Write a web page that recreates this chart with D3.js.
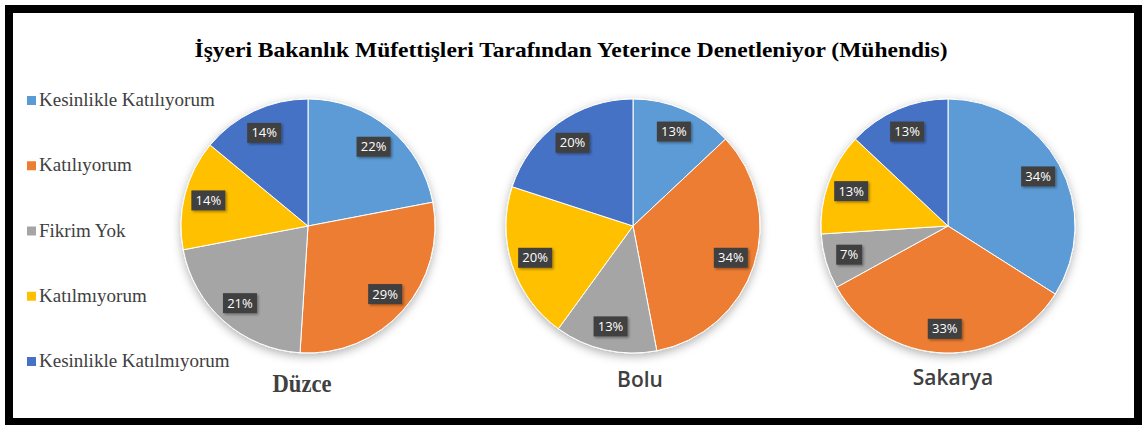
<!DOCTYPE html>
<html>
<head>
<meta charset="utf-8">
<script src="https://cdn.jsdelivr.net/npm/d3@7"></script>
<style>
  html, body { margin: 0; padding: 0; background: #fff; }
  svg { display: block; }
</style>
</head>
<body>
<svg id="chart" width="1144" height="425"></svg>
<script>
const title = "İşyeri Bakanlık Müfettişleri Tarafından Yeterince Denetleniyor (Mühendis)";
const categories = ["Kesinlikle Katılıyorum", "Katılıyorum", "Fikrim Yok", "Katılmıyorum", "Kesinlikle Katılmıyorum"];
const colors = ["#5B9BD5", "#ED7D31", "#A5A5A5", "#FFC000", "#4472C4"];
const cities = ["Düzce", "Bolu", "Sakarya"];
const duzceValues = [22, 29, 21, 14, 14];
const boluValues = [13, 34, 13, 20, 20];
const sakaryaValues = [34, 33, 7, 13, 13];
const seriesValues = [duzceValues, boluValues, sakaryaValues];

const svg = d3.select("#chart");
const W = 1144, H = 425;

const defs = svg.append("defs");
const f = defs.append("filter").attr("id", "pieShadow")
  .attr("x", "-20%").attr("y", "-20%").attr("width", "140%").attr("height", "140%");
f.append("feDropShadow").attr("dx", 0).attr("dy", 3).attr("stdDeviation", 5)
  .attr("flood-color", "#000").attr("flood-opacity", 0.3);
const f2 = defs.append("filter").attr("id", "boxShadow")
  .attr("x", "-30%").attr("y", "-30%").attr("width", "160%").attr("height", "160%");
f2.append("feDropShadow").attr("dx", 1.5).attr("dy", 1.5).attr("stdDeviation", 1)
  .attr("flood-color", "#000").attr("flood-opacity", 0.35);

svg.append("rect").attr("x", 0).attr("y", 0).attr("width", W).attr("height", H).attr("fill", "#fff");

// Frame
svg.append("rect")
  .attr("x", 9).attr("y", 9).attr("width", 1129).attr("height", 413)
  .attr("fill", "none").attr("stroke", "#000").attr("stroke-width", 8);

// Title
svg.append("text")
  .attr("x", 571).attr("y", 57)
  .attr("text-anchor", "middle")
  .attr("font-family", "'Liberation Serif', 'Times New Roman', serif")
  .attr("font-weight", "bold")
  .attr("font-size", 22)
  .attr("textLength", 753)
  .attr("lengthAdjust", "spacingAndGlyphs")
  .attr("fill", "#000")
  .text(title);

// Legend
const legendY = d3.scalePoint().domain(categories).range([106, 367]);
const legend = svg.append("g");
categories.forEach((c, i) => {
  const y = legendY(c);
  legend.append("rect").attr("x", 27).attr("y", y - 10).attr("width", 9).attr("height", 9)
    .attr("fill", colors[i]);
  legend.append("text").attr("x", 39).attr("y", y)
    .attr("font-family", "'Liberation Serif', 'Times New Roman', serif")
    .attr("font-size", 19)
    .attr("fill", "#404040")
    .text(c);
});

// Pies
const cxs = { "Düzce": 308, "Bolu": 633, "Sakarya": 948 };
const R = 127;
const pie = d3.pie().sort(null).value(d => d);
const arc = d3.arc().innerRadius(0).outerRadius(R);
const labelArc = d3.arc().innerRadius(R * 0.81).outerRadius(R * 0.81);

cities.forEach((city, ci) => {
  const cx = cxs[city], cy = 226;
  const g = svg.append("g").attr("transform", `translate(${cx},${cy})`);
  const arcs = pie(seriesValues[ci]);
  const slices = g.append("g").attr("filter", "url(#pieShadow)");
  slices.selectAll("path").data(arcs).enter().append("path")
    .attr("d", arc)
    .attr("fill", (d, i) => colors[i])
    .attr("stroke", "#fff")
    .attr("stroke-width", 1);

  const lbl = g.selectAll("g.lbl").data(arcs).enter().append("g")
    .attr("class", "lbl")
    .attr("transform", d => `translate(${labelArc.centroid(d)})`);
  lbl.append("rect")
    .attr("x", d => (String(d.data).length > 1 ? -17 : -13))
    .attr("y", -10)
    .attr("width", d => (String(d.data).length > 1 ? 34 : 26))
    .attr("height", 20)
    .attr("fill", "#404040")
    .attr("filter", "url(#boxShadow)");
  lbl.append("text")
    .attr("text-anchor", "middle")
    .attr("y", 4.5)
    .attr("font-family", "'Open Sans', 'Noto Sans', sans-serif")
    .attr("font-size", 13)
    .attr("fill", "#fff")
    .text(d => d.data + "%");

  // City label
  if (city === "Düzce") {
    svg.append("text").attr("x", cx - 6).attr("y", 392)
      .attr("text-anchor", "middle")
      .attr("font-family", "'Liberation Serif', 'Times New Roman', serif")
      .attr("font-weight", "bold").attr("font-size", 26)
      .attr("textLength", 59).attr("lengthAdjust", "spacingAndGlyphs")
      .attr("fill", "#404040").text(city);
  } else {
    svg.append("text").attr("x", cx + (city === "Bolu" ? 7 : 5)).attr("y", city === "Bolu" ? 387 : 385)
      .attr("text-anchor", "middle")
      .attr("font-family", "'Open Sans', 'Noto Sans', sans-serif")
      .attr("font-size", 21)
      .attr("font-weight", 600)
      .attr("fill", "#404040").text(city);
  }
});
</script>
</body>
</html>
